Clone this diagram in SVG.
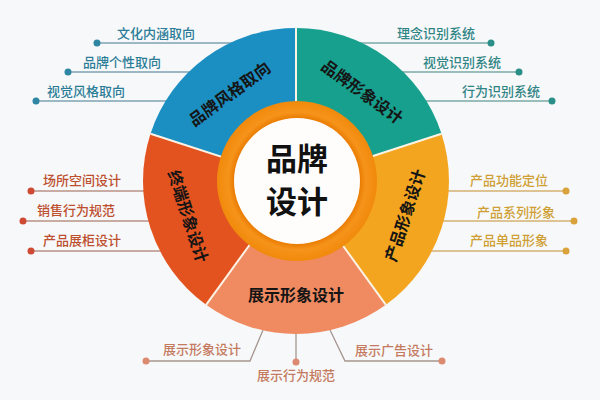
<svg xmlns="http://www.w3.org/2000/svg" width="600" height="400" viewBox="0 0 600 400">
  <style>
    text { font-family: "Noto Sans CJK SC", "Noto Sans", sans-serif; }
    .seg { font-size: 16px; font-weight: bold; fill: #151515; text-anchor: middle; dominant-baseline: central; }
    .ctr { font-size: 31px; font-weight: bold; fill: #111; text-anchor: middle; dominant-baseline: central; }
    .lbl { font-size: 13px; font-weight: 500; }
    .blue-t { fill: #2b7d97; } .blue-d { fill: #2f86a3; } .blue-l { stroke: #7fa3b3; }
    .teal-t { fill: #2f8585; } .teal-d { fill: #2a8f88; } .teal-l { stroke: #7aaaa6; }
    .yel-t { fill: #cf9f33; } .yel-d { fill: #d9a23a; } .yel-l { stroke: #d4b272; }
    .red-t { fill: #bd4f2e; } .red-d { fill: #cf4a35; } .red-l { stroke: #b89285; }
    .pink-t { fill: #c47a5e; } .pink-d { fill: #dc8a70; } .pink-l { stroke: #a6958f; }
    .ln { stroke-width: 1.3; fill: none; }
    .div { stroke: #fbf3e6; stroke-width: 2; }
  </style>
  <defs>
    <radialGradient id="og" cx="0.5" cy="0.5" r="0.5">
      <stop offset="0.78" stop-color="#e97a00"/>
      <stop offset="0.86" stop-color="#f6931a"/>
      <stop offset="1" stop-color="#f08a0c"/>
    </radialGradient>
  </defs>
  <rect width="600" height="400" fill="#f7f8fa"/>

  <g id="connectors">
    <line class="ln blue-l" x1="97" y1="43" x2="232" y2="43"/>
    <line class="ln blue-l" x1="68" y1="72" x2="191" y2="72"/>
    <line class="ln blue-l" x1="36" y1="101" x2="168" y2="101"/>
    <line class="ln teal-l" x1="360" y1="43" x2="491" y2="43"/>
    <line class="ln teal-l" x1="401" y1="72" x2="519" y2="72"/>
    <line class="ln teal-l" x1="424" y1="101" x2="552" y2="101"/>
    <line class="ln yel-l" x1="446" y1="191" x2="566" y2="191"/>
    <line class="ln yel-l" x1="442" y1="221" x2="574" y2="221"/>
    <line class="ln yel-l" x1="430" y1="251" x2="566" y2="251"/>
    <line class="ln red-l" x1="31" y1="191" x2="146" y2="191"/>
    <line class="ln red-l" x1="23" y1="221" x2="150" y2="221"/>
    <line class="ln red-l" x1="31" y1="251" x2="162" y2="251"/>
    <polyline class="ln pink-l" points="146,361 250,361 263,330"/>
    <polyline class="ln pink-l" points="442,361 345,361 330,330"/>
    <line class="ln pink-l" x1="296" y1="332" x2="296" y2="362"/>
    <circle class="blue-d" cx="97" cy="43" r="3.5"/>
    <circle class="blue-d" cx="68" cy="72" r="3.5"/>
    <circle class="blue-d" cx="36" cy="101" r="3.5"/>
    <circle class="teal-d" cx="491" cy="43" r="3.5"/>
    <circle class="teal-d" cx="519" cy="72" r="3.5"/>
    <circle class="teal-d" cx="552" cy="101" r="3.5"/>
    <circle class="yel-d" cx="566" cy="191" r="3.5"/>
    <circle class="yel-d" cx="574" cy="221" r="3.5"/>
    <circle class="yel-d" cx="566" cy="251" r="3.5"/>
    <circle class="red-d" cx="31" cy="191" r="3.5"/>
    <circle class="red-d" cx="23" cy="221" r="3.5"/>
    <circle class="red-d" cx="31" cy="251" r="3.5"/>
    <circle class="pink-d" cx="146" cy="361" r="3.5"/>
    <circle class="pink-d" cx="442" cy="361" r="3.5"/>
    <circle class="pink-d" cx="296" cy="362" r="3.5"/>
  </g>

  <g id="seg-blue">
    <path d="M296,181 L150.5,133.7 A153,153 0 0 1 296,28 Z" fill="#1c8fc2"/>
    <text class="seg" transform="translate(229,93) rotate(-36)">品牌风格取向</text>
  </g>
  <g id="seg-teal">
    <path d="M296,181 L296,28 A153,153 0 0 1 441.5,133.7 Z" fill="#16a08d"/>
    <text class="seg" transform="translate(363,91) rotate(36)">品牌形象设计</text>
  </g>
  <g id="seg-yellow">
    <path d="M296,181 L441.5,133.7 A153,153 0 0 1 385.9,304.8 Z" fill="#f4a51f"/>
    <text class="seg" transform="translate(404,215) rotate(-72)">产品形象设计</text>
  </g>
  <g id="seg-pink">
    <path d="M296,181 L385.9,304.8 A153,153 0 0 1 206.1,304.8 Z" fill="#ef8a61"/>
    <text class="seg" x="296" y="294">展示形象设计</text>
  </g>
  <g id="seg-red">
    <path d="M296,181 L206.1,304.8 A153,153 0 0 1 150.5,133.7 Z" fill="#e3531f"/>
    <text class="seg" transform="translate(189,216) rotate(72)">终端形象设计</text>
  </g>
  <g id="dividers">
    <line class="div" x1="296" y1="181" x2="296" y2="28"/>
    <line class="div" x1="296" y1="181" x2="441.5" y2="133.7"/>
    <line class="div" x1="296" y1="181" x2="385.9" y2="304.8"/>
    <line class="div" x1="296" y1="181" x2="206.1" y2="304.8"/>
    <line class="div" x1="296" y1="181" x2="150.5" y2="133.7"/>
  </g>

  <g id="center">
    <circle cx="297" cy="181" r="80" fill="url(#og)"/>
    <circle cx="297" cy="181" r="63" fill="#fffdfb"/>
    <text class="ctr" x="297" y="156">品牌</text>
    <text class="ctr" x="297" y="199">设计</text>
  </g>

  <g id="labels-blue" class="lbl">
    <text class="blue-t" x="117" y="38">文化内涵取向</text>
    <text class="blue-t" x="83" y="67">品牌个性取向</text>
    <text class="blue-t" x="47" y="96">视觉风格取向</text>
  </g>
  <g id="labels-teal" class="lbl">
    <text class="teal-t" x="397" y="38">理念识别系统</text>
    <text class="teal-t" x="423" y="67">视觉识别系统</text>
    <text class="teal-t" x="462" y="96">行为识别系统</text>
  </g>
  <g id="labels-yellow" class="lbl">
    <text class="yel-t" x="470" y="185">产品功能定位</text>
    <text class="yel-t" x="477" y="217">产品系列形象</text>
    <text class="yel-t" x="470" y="245">产品单品形象</text>
  </g>
  <g id="labels-red" class="lbl">
    <text class="red-t" x="43" y="185">场所空间设计</text>
    <text class="red-t" x="37" y="215">销售行为规范</text>
    <text class="red-t" x="43" y="245">产品展柜设计</text>
  </g>
  <g id="labels-pink" class="lbl">
    <text class="pink-t" x="163" y="354">展示形象设计</text>
    <text class="pink-t" x="355" y="355">展示广告设计</text>
    <text class="pink-t" x="296" y="380" text-anchor="middle">展示行为规范</text>
  </g>
</svg>
